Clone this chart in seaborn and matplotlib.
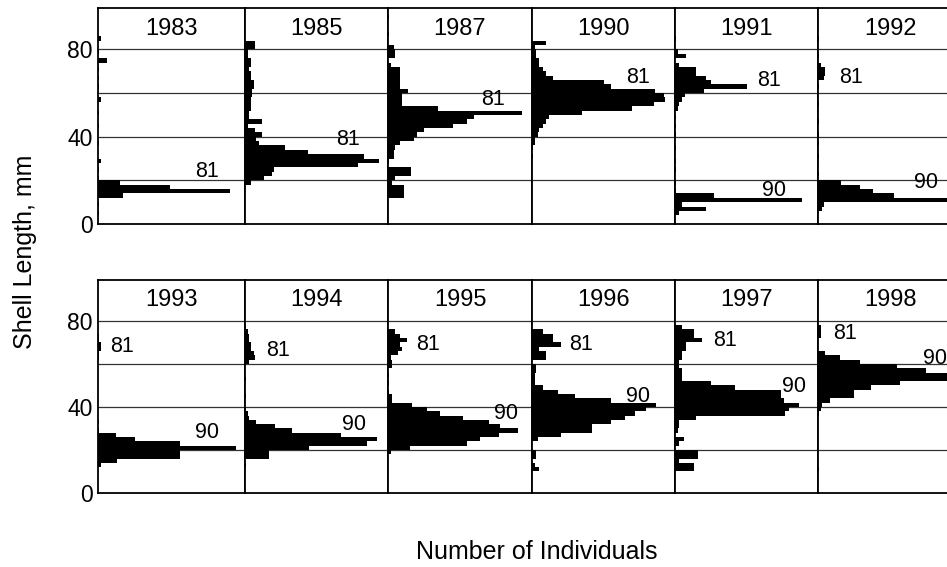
import numpy as np
import pandas as pd
import matplotlib
matplotlib.use("Agg")
import matplotlib.pyplot as plt
import seaborn as sns

# ---- data: bin mid-points (shell length, mm, 2-mm bins) and counts per panel ----
years_top = [1983, 1985, 1987, 1990, 1991, 1992]
years_bot = [1993, 1994, 1995, 1996, 1997, 1998]

len_1983 = [5, 9, 13, 15, 17, 19, 21, 25, 29, 37, 45, 51, 57, 63, 67, 71, 75, 79, 85]
cnt_1983 = [1, 1, 17, 90, 49, 15, 1, 1, 2, 1, 1, 1, 2, 1, 1, 1, 6, 1, 2]

len_1985 = [19, 21, 23, 25, 27, 29, 31, 33, 35, 37, 39, 41, 43, 45, 47, 49, 51, 53, 55, 57,
            59, 61, 63, 65, 67, 69, 71, 73, 75, 77, 79, 81, 83]
cnt_1985 = [4, 13, 19, 20, 79, 94, 83, 44, 28, 10, 8, 12, 7, 2, 12, 3, 3, 4, 4, 4,
            5, 5, 6, 6, 4, 4, 3, 4, 4, 2, 2, 7, 7]

len_1987 = [13, 15, 17, 19, 21, 23, 25, 29, 31, 33, 35, 37, 39, 41, 43, 45, 47, 49, 51, 53,
            55, 57, 59, 61, 63, 65, 67, 69, 71, 73, 77, 79, 81, 87, 95]
cnt_1987 = [11, 11, 11, 3, 5, 16, 16, 1, 4, 4, 5, 8, 18, 20, 25, 45, 55, 60, 93, 35,
            10, 10, 10, 14, 8, 8, 8, 8, 8, 2, 5, 5, 4, 1, 1]

len_1990 = [31, 35, 37, 39, 41, 43, 45, 47, 49, 51, 53, 55, 57, 59, 61, 63, 65, 67, 69, 71,
            73, 75, 77, 79, 81, 83]
cnt_1990 = [1, 1, 2, 2, 4, 5, 8, 10, 12, 35, 70, 85, 93, 92, 86, 55, 50, 15, 10, 8,
            5, 5, 3, 3, 2, 10]

len_1991 = [5, 7, 9, 11, 13, 15, 19, 25, 29, 35, 41, 45, 49, 53, 55, 57, 59, 61, 63, 65,
            67, 69, 71, 73, 77, 79, 85]
cnt_1991 = [3, 22, 5, 89, 27, 1, 1, 1, 1, 1, 1, 1, 1, 2, 3, 5, 7, 20, 50, 25,
            22, 15, 15, 3, 8, 2, 1]

len_1992 = [7, 9, 11, 13, 15, 17, 19, 23, 31, 37, 41, 47, 55, 63, 67, 69, 71, 73, 77, 85]
cnt_1992 = [3, 4, 95, 53, 38, 29, 16, 1, 1, 1, 1, 1, 1, 1, 4, 5, 5, 2, 1, 1]

len_1993 = [13, 15, 17, 19, 21, 23, 25, 27, 29, 33, 63, 65, 67, 69, 71, 73]
cnt_1993 = [2, 13, 56, 56, 94, 56, 25, 12, 1, 1, 1, 1, 2, 2, 1, 1]

len_1994 = [13, 17, 19, 21, 23, 25, 27, 29, 31, 33, 35, 37, 39, 45, 53, 61, 63, 65, 67, 69,
            71, 73, 75, 77]
cnt_1994 = [1, 17, 17, 45, 85, 92, 67, 33, 21, 8, 3, 2, 1, 1, 1, 3, 7, 6, 4, 4,
            3, 3, 2, 1]

len_1995 = [19, 21, 23, 25, 27, 29, 31, 33, 35, 37, 39, 41, 43, 45, 47, 51, 55, 59, 61, 63,
            65, 67, 69, 71, 73, 75]
cnt_1995 = [2, 15, 55, 64, 77, 90, 78, 70, 52, 36, 27, 17, 3, 3, 1, 1, 1, 3, 3, 2,
            7, 10, 8, 13, 8, 5]

len_1996 = [11, 13, 17, 19, 25, 27, 29, 31, 33, 35, 37, 39, 41, 43, 45, 47, 49, 51, 53, 55,
            57, 59, 63, 65, 67, 69, 71, 73, 75]
cnt_1996 = [5, 2, 3, 3, 4, 20, 42, 42, 55, 65, 72, 80, 87, 55, 30, 18, 8, 2, 2, 2,
            3, 3, 10, 10, 5, 20, 15, 15, 8]

len_1997 = [11, 13, 15, 17, 19, 23, 25, 29, 31, 33, 35, 37, 39, 41, 43, 45, 47, 49, 51, 53,
            55, 57, 59, 61, 63, 65, 67, 69, 71, 73, 75, 77]
cnt_1997 = [13, 13, 3, 16, 16, 3, 6, 2, 3, 3, 15, 77, 80, 87, 76, 74, 74, 42, 25, 5,
            5, 5, 3, 3, 5, 5, 8, 8, 19, 13, 13, 5]

len_1998 = [11, 37, 39, 41, 43, 45, 47, 49, 51, 53, 55, 57, 59, 61, 63, 65, 73, 75, 77]
cnt_1998 = [1, 1, 2, 3, 8, 25, 25, 37, 57, 95, 92, 75, 55, 29, 15, 5, 2, 2, 2]

# cohort labels: (text, x in % of panel width, y in mm)
labels_1983 = [("81", 74, 24)]
labels_1985 = [("81", 72, 38.7)]
labels_1987 = [("81", 73, 57)]
labels_1990 = [("81", 74, 67)]
labels_1991 = [("81", 66, 65.8), ("90", 69, 15.5)]
labels_1992 = [("81", 23, 67), ("90", 75, 18.9)]
labels_1993 = [("81", 16, 68), ("90", 74, 28)]
labels_1994 = [("81", 23, 66), ("90", 76, 31.8)]
labels_1995 = [("81", 28, 69), ("90", 82, 37)]
labels_1996 = [("81", 34, 69), ("90", 74, 45)]
labels_1997 = [("81", 35, 71), ("90", 83, 49.5)]
labels_1998 = [("81", 19, 74), ("90", 81, 62.5)]

panels = {
    1983: (len_1983, cnt_1983, labels_1983), 1985: (len_1985, cnt_1985, labels_1985),
    1987: (len_1987, cnt_1987, labels_1987), 1990: (len_1990, cnt_1990, labels_1990),
    1991: (len_1991, cnt_1991, labels_1991), 1992: (len_1992, cnt_1992, labels_1992),
    1993: (len_1993, cnt_1993, labels_1993), 1994: (len_1994, cnt_1994, labels_1994),
    1995: (len_1995, cnt_1995, labels_1995), 1996: (len_1996, cnt_1996, labels_1996),
    1997: (len_1997, cnt_1997, labels_1997), 1998: (len_1998, cnt_1998, labels_1998),
}

# ---- style ----
sns.set_style("white")
plt.rcParams["font.family"] = ["Liberation Sans", "DejaVu Sans"]
plt.rcParams["text.color"] = "black"
plt.rcParams["ytick.color"] = "black"
plt.rcParams["xtick.color"] = "black"
plt.rcParams["axes.labelcolor"] = "black"

W, H = 947, 567
fig = plt.figure(figsize=(W / 100, H / 100), dpi=100)

col_left = [98, 245, 388, 532, 675, 818]
col_w = [147, 143, 144, 143, 143, 144]
rows = [(224, 216, years_top), (493, 213, years_bot)]  # (pixel y of zero, height px, years)
YMAX = 99

for r, (y0, hpx, yrs) in enumerate(rows):
    for c, yr in enumerate(yrs):
        ax = fig.add_axes([col_left[c] / W, (H - y0) / H, col_w[c] / W, hpx / H])
        lens, cnts, labs = panels[yr]
        df = pd.DataFrame({"length": lens, "count": cnts})
        sns.histplot(data=df, y="length", weights="count", binwidth=2, binrange=(0, 100),
                     color="black", alpha=1, linewidth=0, edgecolor="none", ax=ax)
        ax.set_xlim(0, 100)
        ax.set_ylim(0, YMAX)
        ax.set_xlabel("")
        ax.set_ylabel("")
        ax.set_xticks([])
        ax.set_yticks([0, 20, 40, 60, 80])
        if c == 0:
            ax.set_yticklabels(["0", "", "40", "", "80"], fontsize=16.5, color="black")
        else:
            ax.set_yticklabels([])
        ax.tick_params(axis="y", length=0, pad=4)
        for gy in [20, 40, 60, 80]:
            ax.axhline(gy, color="#333333", lw=0.9, zorder=0)
        for s in ax.spines.values():
            s.set_visible(True)
            s.set_color("black")
            s.set_linewidth(1.3)
        ax.text(50, 89.5, str(yr), ha="center", va="center", fontsize=17, color="black")
        for t, lx, ly in labs:
            ax.text(lx, ly, t, ha="center", va="center", fontsize=15.5, color="black")

fig.text(25 / W, 1 - 252 / H, "Shell Length, mm", rotation=90, ha="center", va="center",
         fontsize=18, color="black")
fig.text(537 / W, 1 - 552 / H, "Number of Individuals", ha="center", va="center",
         fontsize=18, color="black")

fig.savefig("out.png", dpi=100)
